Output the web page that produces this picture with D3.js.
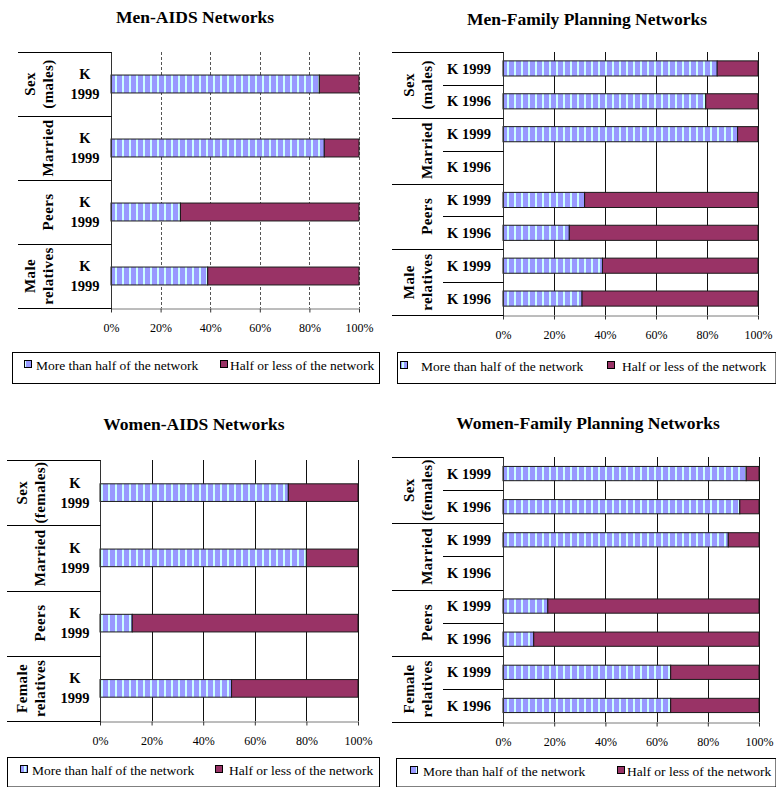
<!DOCTYPE html>
<html><head><meta charset="utf-8">
<script src="https://cdn.jsdelivr.net/npm/d3@7"></script>
<style>body{margin:0;background:#fff}</style>
</head><body>
<svg id="c" width="776" height="787"></svg>
<script>
// ---------- DATA ----------
const tickValues = [0, 0.2, 0.4, 0.6, 0.8, 1];
const seriesNames = ["More than half of the network", "Half or less of the network"];

const aidsSubs = ["K 1999"];
const fpSubs = ["K 1999", "K 1996"];

const menGroups = ["Sex\n(males)", "Married", "Peers", "Male\nrelatives"];
const womenGroups = ["Sex\n(females)", "Married", "Peers", "Female\nrelatives"];

// Men-AIDS (one row per group: K 1999)
const menAidsMore = [84, 86, 28, 39];
const menAidsLess = [16, 14, 72, 61];

// Men-Family Planning (rows: group x [K 1999, K 1996])
const menFpMore = [84, 79.5, 92, null, 32, 26, 39, 31];
const menFpLess = [16, 20.5, 8, null, 68, 74, 61, 69];

// Women-AIDS
const womenAidsMore = [73, 80, 12.5, 51];
const womenAidsLess = [27, 20, 87.5, 49];

// Women-Family Planning
const womenFpMore = [95, 92.5, 88, null, 17.5, 12, 65.5, 65.5];
const womenFpLess = [5, 7.5, 12, null, 82.5, 88, 34.5, 34.5];

// ---------- LAYOUT ----------
const serif = "'Liberation Serif','Times New Roman',serif";
const svg = d3.select("#c");
const defs = svg.append("defs");
const pat = defs.append("pattern").attr("id", "stripe").attr("patternUnits", "userSpaceOnUse")
  .attr("width", 7).attr("height", 10);
pat.append("rect").attr("width", 7).attr("height", 10).attr("fill", "#9999FF");
pat.append("rect").attr("x", 3).attr("width", 2).attr("height", 10).attr("fill", "#CCFFFF");
const colors = ["url(#stripe)", "#993366"];

const panels = [
  {title: "Men-AIDS Networks", tx: 195, ty: 23, x0: 111, x1: 359, y0: 52, y1: 308,
   tableLeft: 18, subLeft: null, glx: 48, slx: 85, stackSub: true, dashed: true, pad: 0.72,
   groups: menGroups, subs: aidsSubs, more: menAidsMore, less: menAidsLess,
   legend: {x0: 12, x1: 379, y0: 352, y1: 383, s1: 24, t1: 36, s2: 220, t2: 230, ty: 370}},
  {title: "Men-Family Planning Networks", tx: 587, ty: 25, x0: 503, x1: 758, y0: 52, y1: 315,
   tableLeft: 392, subLeft: 443, glx: 427, slx: 469, stackSub: false, dashed: false, pad: 0.54,
   groups: menGroups, subs: fpSubs, more: menFpMore, less: menFpLess,
   legend: {x0: 397, x1: 775.5, y0: 352, y1: 383, s1: 400, t1: 421, s2: 607, t2: 622, ty: 371}},
  {title: "Women-AIDS Networks", tx: 194, ty: 430, x0: 100, x1: 358, y0: 460, y1: 721,
   tableLeft: 7, subLeft: null, glx: 40, slx: 75, stackSub: true, dashed: false, pad: 0.73,
   groups: womenGroups, subs: aidsSubs, more: womenAidsMore, less: womenAidsLess,
   legend: {x0: 7, x1: 379, y0: 757, y1: 786.5, s1: 20, t1: 32, s2: 215, t2: 229, ty: 775}},
  {title: "Women-Family Planning Networks", tx: 588, ty: 429, x0: 503, x1: 759, y0: 457, y1: 722,
   tableLeft: 392, subLeft: 443, glx: 427, slx: 469, stackSub: false, dashed: false, pad: 0.57,
   groups: womenGroups, subs: fpSubs, more: womenFpMore, less: womenFpLess,
   legend: {x0: 396, x1: 775.5, y0: 758, y1: 786.5, s1: 410, t1: 423, s2: 617, t2: 627, ty: 776}}
];

function drawPanel(cfg) {
  const g = svg.append("g");
  const nG = cfg.groups.length, nS = cfg.subs.length;
  const rows = [];
  cfg.groups.forEach((gr, i) => cfg.subs.forEach((s, j) => {
    const k = i * nS + j;
    rows.push({key: i + "-" + j, group: i, sub: s, more: cfg.more[k], less: cfg.less[k]});
  }));
  const x = d3.scaleLinear().domain([0, 1]).range([cfg.x0, cfg.x1]);
  const y = d3.scaleBand().domain(rows.map(r => r.key)).range([cfg.y0, cfg.y1])
    .paddingInner(cfg.pad).paddingOuter(cfg.pad / 2);
  const gy = d3.scaleBand().domain(d3.range(nG)).range([cfg.y0, cfg.y1]);
  const ry = d3.scaleBand().domain(rows.map(r => r.key)).range([cfg.y0, cfg.y1]);

  // title
  g.append("text").attr("x", cfg.tx).attr("y", cfg.ty).attr("text-anchor", "middle")
    .attr("font-family", serif).attr("font-weight", "bold").attr("font-size", 17.5)
    .text(cfg.title);

  // gridlines
  g.append("g").selectAll("line").data(tickValues.slice(1)).join("line")
    .attr("x1", d => Math.round(x(d)) + 0.5).attr("x2", d => Math.round(x(d)) + 0.5)
    .attr("y1", cfg.y0).attr("y2", cfg.y1)
    .attr("stroke", cfg.dashed ? "#555" : "#111")
    .attr("stroke-width", 1)
    .attr("stroke-dasharray", cfg.dashed ? "3,2" : null);

  // x axis
  const ax = g.append("g").attr("transform", `translate(0,${Math.round(cfg.y1) + 0.5})`)
    .call(d3.axisBottom(x).tickValues(tickValues).tickFormat(d3.format(".0%"))
      .tickSize(4).tickSizeOuter(0).tickPadding(11))
    .attr("font-family", serif).attr("font-size", 12);
  ax.select(".domain").attr("stroke", "#7a7a7a");
  ax.selectAll(".tick line").attr("stroke", "#333");
  ax.selectAll(".tick text").attr("fill", "#000");

  // bars
  const valid = rows.filter(r => r.more != null);
  const stacked = d3.stack().keys(["more", "less"]).offset(d3.stackOffsetExpand)(valid);
  g.append("g").selectAll("g").data(stacked).join("g")
    .attr("fill", (d, i) => colors[i])
    .selectAll("rect").data(d => d).join("rect")
    .attr("x", d => x(d[0])).attr("width", d => x(d[1]) - x(d[0]))
    .attr("y", d => y(d.data.key)).attr("height", y.bandwidth())
    .attr("stroke", "#1a1a1a").attr("stroke-width", 1);

  // left value-axis line
  g.append("line").attr("x1", cfg.x0 + 0.5).attr("x2", cfg.x0 + 0.5)
    .attr("y1", cfg.y0).attr("y2", cfg.y1 + 4).attr("stroke", "#333");

  // table lines: group boundaries
  const gb = d3.range(nG + 1).map(i => i < nG ? gy(i) : cfg.y1);
  g.append("g").selectAll("line").data(gb).join("line")
    .attr("x1", cfg.tableLeft).attr("x2", cfg.x0 + 0.5)
    .attr("y1", d => Math.round(d) + 0.5).attr("y2", d => Math.round(d) + 0.5)
    .attr("stroke", "#000");
  // sub boundaries
  if (cfg.subLeft != null) {
    const sb = rows.filter((r, i) => i % nS !== 0).map(r => ry(r.key));
    g.append("g").selectAll("line").data(sb).join("line")
      .attr("x1", cfg.subLeft).attr("x2", cfg.x0 + 0.5)
      .attr("y1", d => Math.round(d) + 0.5).attr("y2", d => Math.round(d) + 0.5)
      .attr("stroke", "#000");
  }

  // group labels (rotated)
  cfg.groups.forEach((lab, i) => {
    const cy = gy(i) + gy.bandwidth() / 2;
    const lines = lab.split("\n");
    lines.forEach((ln, k) => {
      const cx = lines.length === 1 ? cfg.glx : cfg.glx - 18 * (lines.length - 1 - k);
      g.append("text").attr("transform", `translate(${cx},${cy}) rotate(-90)`)
        .attr("text-anchor", "middle").attr("dy", "0.35em")
        .attr("font-family", serif).attr("font-weight", "bold").attr("font-size", 15)
        .attr("letter-spacing", 0.4)
        .text(ln);
    });
  });

  // sub labels
  rows.forEach(r => {
    const cy = ry(r.key) + ry.bandwidth() / 2;
    if (cfg.stackSub) {
      r.sub.split(" ").forEach((p, k) => {
        g.append("text").attr("x", cfg.slx).attr("y", cy - 10 + 20 * k).attr("dy", "0.35em")
          .attr("text-anchor", "middle").attr("font-family", serif).attr("font-weight", "bold")
          .attr("font-size", 14.5).text(p);
      });
    } else {
      g.append("text").attr("x", cfg.slx).attr("y", cy).attr("dy", "0.35em")
        .attr("text-anchor", "middle").attr("font-family", serif).attr("font-weight", "bold")
        .attr("font-size", 14.5).text(r.sub);
    }
  });

  // legend
  const L = cfg.legend;
  g.append("rect").attr("x", L.x0 + 0.5).attr("y", L.y0 + 0.5)
    .attr("width", L.x1 - L.x0).attr("height", L.y1 - L.y0)
    .attr("fill", "#fff").attr("stroke", "#000");
  [[L.s1, L.t1], [L.s2, L.t2]].forEach(([sx, tx], i) => {
    g.append("rect").attr("x", sx + 0.5).attr("y", L.ty - 9.5).attr("width", 7).attr("height", 7)
      .attr("fill", colors[i]).attr("stroke", "#000").attr("stroke-width", 1);
    g.append("text").attr("x", tx).attr("y", L.ty).attr("font-family", serif)
      .attr("font-size", 13.5).text(seriesNames[i]);
  });
}

panels.forEach(drawPanel);
</script>
</body></html>
